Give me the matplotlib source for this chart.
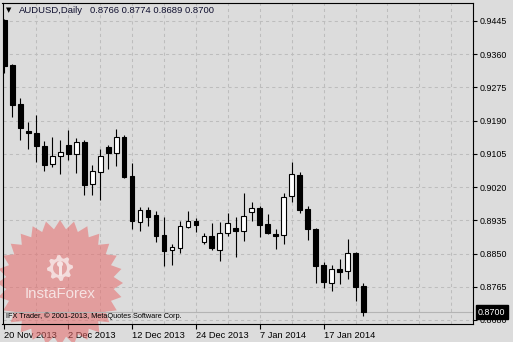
import numpy as np
import matplotlib
matplotlib.use("Agg")
import matplotlib.pyplot as plt
from matplotlib.patches import Polygon, Rectangle
import matplotlib.transforms as mtransforms

# ---------------- data (AUDUSD daily) ----------------
opens = [0.9448, 0.9332, 0.9233, 0.9164, 0.9158, 0.9125, 0.9079, 0.9100, 0.9128, 0.9105,
         0.9135, 0.9028, 0.9059, 0.9123, 0.9107, 0.9148, 0.9048, 0.8931, 0.8961, 0.8949,
         0.8897, 0.8859, 0.8864, 0.8918, 0.8933, 0.8880, 0.8895, 0.8859, 0.8903, 0.8915,
         0.8908, 0.8956, 0.8967, 0.8926, 0.8900, 0.8897, 0.8997, 0.9051, 0.8964, 0.8913,
         0.8821, 0.8775, 0.8810, 0.8805, 0.8851, 0.8766]
highs = [0.9450, 0.9334, 0.9248, 0.9187, 0.9205, 0.9138, 0.9148, 0.9141, 0.9166, 0.9146,
         0.9141, 0.9077, 0.9118, 0.9128, 0.9169, 0.9153, 0.9082, 0.8969, 0.8969, 0.8959,
         0.8944, 0.8874, 0.8933, 0.8959, 0.8941, 0.8903, 0.8928, 0.8931, 0.8954, 0.8944,
         0.9005, 0.8982, 0.8972, 0.8951, 0.8913, 0.9005, 0.9084, 0.9059, 0.8972, 0.8915,
         0.8828, 0.8821, 0.8836, 0.8887, 0.8854, 0.8774]
lows = [0.9312, 0.9199, 0.9141, 0.9118, 0.9084, 0.9061, 0.9071, 0.9054, 0.9089, 0.9056,
        0.9000, 0.9000, 0.8987, 0.9066, 0.9074, 0.9043, 0.8913, 0.8908, 0.8921, 0.8880,
        0.8818, 0.8821, 0.8851, 0.8915, 0.8905, 0.8874, 0.8859, 0.8831, 0.8895, 0.8841,
        0.8882, 0.8933, 0.8892, 0.8900, 0.8862, 0.8874, 0.8982, 0.8954, 0.8885, 0.8775,
        0.8762, 0.8754, 0.8772, 0.8785, 0.8729, 0.8689]
closes = [0.9330, 0.9230, 0.9171, 0.9158, 0.9125, 0.9077, 0.9100, 0.9110, 0.9105, 0.9135,
          0.9025, 0.9061, 0.9100, 0.9107, 0.9148, 0.9046, 0.8933, 0.8961, 0.8944, 0.8895,
          0.8857, 0.8867, 0.8921, 0.8933, 0.8923, 0.8895, 0.8864, 0.8903, 0.8928, 0.8908,
          0.8946, 0.8967, 0.8923, 0.8903, 0.8895, 0.8995, 0.9054, 0.8961, 0.8913, 0.8818,
          0.8777, 0.8810, 0.8803, 0.8851, 0.8764, 0.8700]

date_labels = ["20 Nov 2013", "2 Dec 2013", "12 Dec 2013", "24 Dec 2013", "7 Jan 2014", "17 Jan 2014"]
date_label_bars = [0, 8, 16, 24, 32, 40]
price_ticks = [0.8680, 0.8765, 0.8850, 0.8935, 0.9020, 0.9105, 0.9190, 0.9275, 0.9360, 0.9445]
symbol = "AUDUSD,Daily"
copyright_text = "IFX Trader, \u00a9 2001-2013, MetaQuotes Software Corp."

# ---------------- figure ----------------
W, H = 513, 342
BG = "#dcdcdc"
FONT = ["Liberation Sans", "DejaVu Sans"]
fig = plt.figure(figsize=(W / 100, H / 100), dpi=100, facecolor=BG)
ax = fig.add_axes([2.5 / W, (H - 323.7) / H, 470.8 / W, 321.2 / H], facecolor=BG)

n = len(opens)
idx = np.arange(n)
o = np.array(opens); c = np.array(closes); h = np.array(highs); l = np.array(lows)
up = c >= o

# wicks
ax.vlines(idx, l, h, color="black", linewidth=0.8, zorder=3)
# bodies
bottoms = np.minimum(o, c)
heights = np.maximum(np.abs(c - o), 0.00012)
ax.bar(idx[up], heights[up], bottom=bottoms[up], width=0.6, facecolor="white",
       edgecolor="black", linewidth=0.8, zorder=4)
ax.bar(idx[~up], heights[~up], bottom=bottoms[~up], width=0.6, facecolor="black",
       edgecolor="black", linewidth=0.8, zorder=4)

ax.set_xlim(-0.238, 58.76)
ax.set_ylim(0.86705, 0.94923)

# grid
gkw = dict(color="#bdbdbd", linewidth=0.75, linestyle=(0, (3, 3)), zorder=1)
for p in price_ticks:
    ax.axhline(p, **gkw)
for gx in range(4, 59, 4):
    ax.axvline(gx, **gkw)

# current price line
ax.axhline(closes[-1], color="#b4b4b4", linewidth=0.8, zorder=2)

# axes formatting
for s in ax.spines.values():
    s.set_color("black")
    s.set_linewidth(0.8)
ax.yaxis.tick_right()
ax.set_yticks(price_ticks)
ax.set_yticklabels([f"{p:.4f}" for p in price_ticks])
ax.tick_params(axis="y", direction="out", length=3, width=0.8, pad=1.5,
               labelsize=6.4, colors="black")
ax.set_xticks(date_label_bars)
ax.set_xticklabels(date_labels, ha="left")
ax.tick_params(axis="x", direction="out", length=3.5, width=0.8, pad=1.5,
               labelsize=6.7, colors="black")
for lab in ax.get_xticklabels() + ax.get_yticklabels():
    lab.set_fontfamily(FONT)

# current price box
trans = mtransforms.blended_transform_factory(ax.transAxes, ax.transData)
ax.text(1.0 + 4.5 / 470.8, closes[-1], f"{closes[-1]:.4f}", transform=trans,
        ha="left", va="center", color="white", fontsize=6.4, family=FONT,
        zorder=10, clip_on=False,
        bbox=dict(boxstyle="square,pad=0.25", facecolor="black", edgecolor="black"))

# ---------------- watermark (InstaForex) ----------------
def px(x, y):
    return (x / W, 1 - y / H)

cx, cy = 60, 283
npts = 28
verts = []
for k in range(2 * npts):
    r = 63 if k % 2 == 0 else 54
    a = np.pi / 2 + k * np.pi / npts
    verts.append(px(cx + r * np.cos(a), cy - r * np.sin(a)))
ax.add_patch(Polygon(verts, closed=True, transform=fig.transFigure, facecolor="#e86a6a",
                     edgecolor="none", alpha=0.55, zorder=1.6, clip_on=False))

# gear icon
gx0, gy0 = 60, 268
gverts = []
nteeth = 8
for k in range(nteeth * 4):
    a = np.pi / 2 + k * 2 * np.pi / (nteeth * 4)
    r = 13 if (k % 4) in (0, 1) else 10
    gverts.append(px(gx0 + r * np.cos(a), gy0 - r * np.sin(a)))
ax.add_patch(Polygon(gverts, closed=True, transform=fig.transFigure, facecolor="#f6e4e4",
                     edgecolor="none", alpha=0.9, zorder=1.7, clip_on=False))
inner = [px(gx0 + 7 * np.cos(t), gy0 - 7 * np.sin(t)) for t in np.linspace(0, 2 * np.pi, 40)]
ax.add_patch(Polygon(inner, closed=True, transform=fig.transFigure, facecolor="#e3a3a3",
                     edgecolor="none", zorder=1.75, clip_on=False))
ax.add_patch(Rectangle(px(gx0 - 1.5, gy0 + 8), 3 / W, 14 / H, transform=fig.transFigure,
                       facecolor="#f6e4e4", edgecolor="none", zorder=1.8, clip_on=False))
head = [px(gx0 + 3 * np.cos(t), gy0 - 4 - 3 * np.sin(t)) for t in np.linspace(0, 2 * np.pi, 30)]
ax.add_patch(Polygon(head, closed=True, transform=fig.transFigure, facecolor="#f6e4e4",
                     edgecolor="none", zorder=1.8, clip_on=False))
fig.text(*px(60, 294), "InstaForex", ha="center", va="center", color="#f7e6e6",
         fontsize=10.8, family=FONT, alpha=0.95, zorder=2)

# ---------------- texts ----------------
fig.text(*px(6, 10.5), "\u25bc", ha="left", va="center", fontsize=5, color="black",
         family="DejaVu Sans")
fig.text(*px(19, 10.5), symbol, ha="left", va="center", fontsize=6.8, color="#101030",
         family=FONT)
fig.text(*px(90, 10.5), f"{opens[-1]:.4f} {highs[-1]:.4f} {lows[-1]:.4f} {closes[-1]:.4f}",
         ha="left", va="center", fontsize=6.8, color="#101030", family=FONT)
fig.text(*px(6, 316), copyright_text, ha="left", va="center", fontsize=5.35, color="black",
         family=FONT, zorder=5)

fig.savefig("out.png", dpi=100, facecolor=BG)
